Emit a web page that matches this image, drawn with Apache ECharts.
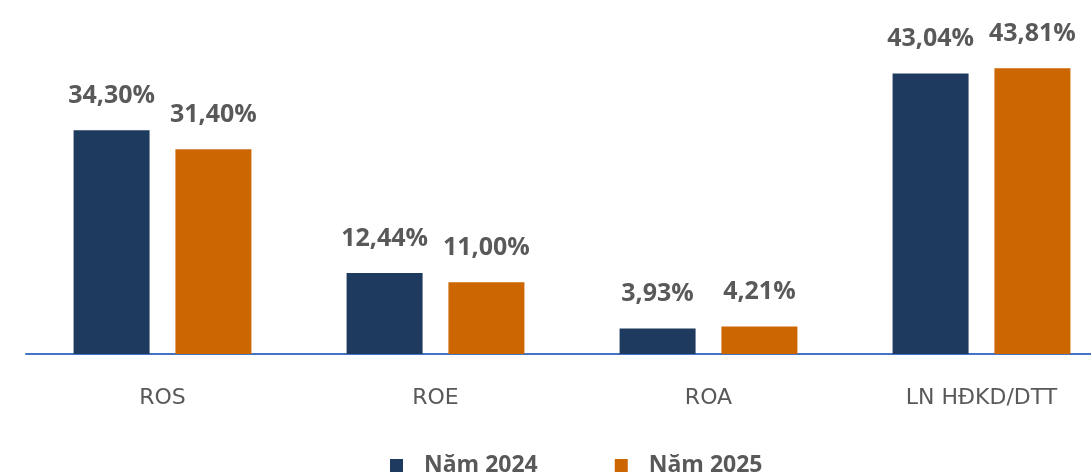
<!DOCTYPE html>
<html>
<head>
<meta charset="utf-8">
<script src="https://cdn.jsdelivr.net/npm/echarts@6/dist/echarts.min.js"></script>
<style>html,body{margin:0;padding:0;background:#fff}#c{width:1091px;height:476px}</style>
</head>
<body>
<div id="c"></div>
<script>
const categories = ['ROS', 'ROE', 'ROA', 'LN HĐKD/DTT'];
const seriesNames = ['Năm 2024', 'Năm 2025'];
const values2024 = [34.30, 12.44, 3.93, 43.04];
const values2025 = [31.40, 11.00, 4.21, 43.81];
const colors = ['#1F3A5F', '#CC6600'];

const fmt = v => v.toFixed(2).replace('.', ',') + '%';
const chart = echarts.init(document.getElementById('c'), null, {renderer: 'canvas'});
const labelStyle = {
  show: true, position: 'top', distance: 22,
  fontFamily: 'Open Sans', fontWeight: 'bold', fontSize: 25, color: '#595959',
  formatter: p => fmt(p.value)
};
chart.setOption({
  animation: false,
  grid: {left: 26, width: 1092, top: 28, bottom: 122, outerBoundsMode: 'none', containLabel: false},
  legend: {
    bottom: -6, left: 385, itemGap: 77, itemWidth: 13, itemHeight: 13,
    icon: 'rect',
    textStyle: {fontFamily: 'Open Sans', fontWeight: 'bold', fontSize: 23, color: '#595959', padding: [0, 0, 0, 16]},
    data: seriesNames
  },
  xAxis: {
    type: 'category', data: categories,
    axisLine: {lineStyle: {color: '#4472C4', width: 2}},
    axisTick: {show: false},
    axisLabel: {fontFamily: 'DejaVu Sans', fontSize: 22, color: '#595959', margin: 33}
  },
  yAxis: {type: 'value', min: 0, max: 50, show: false, splitLine: {show: false}},
  series: [
    {name: seriesNames[0], type: 'bar', data: values2024, barWidth: 76, barGap: '34%', itemStyle: {color: colors[0]}, label: labelStyle},
    {name: seriesNames[1], type: 'bar', data: values2025, barWidth: 76, itemStyle: {color: colors[1]}, label: labelStyle}
  ]
});
</script>
</body>
</html>
